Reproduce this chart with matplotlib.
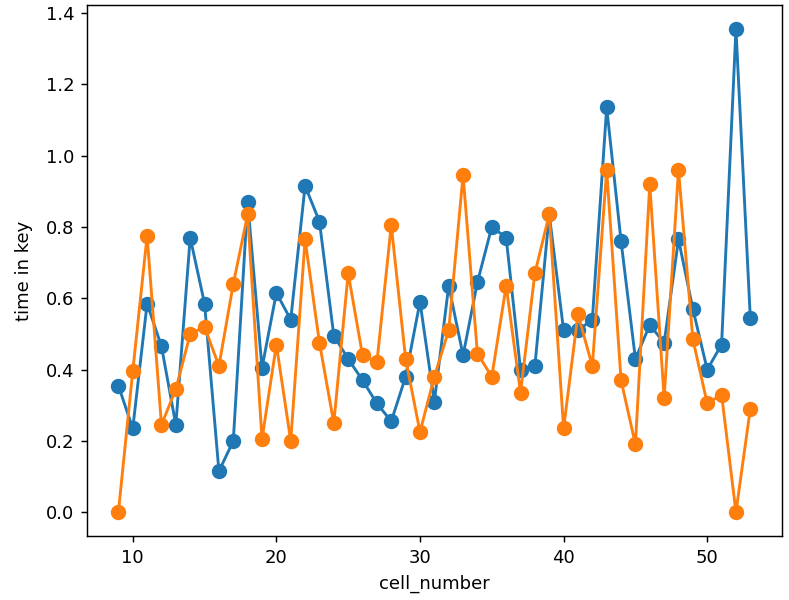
import matplotlib
matplotlib.use("Agg")
import matplotlib.pyplot as plt
import numpy as np

cell_number = np.arange(9, 54)

time_blue = [0.355, 0.235, 0.585, 0.465, 0.245, 0.77, 0.585, 0.115, 0.20, 0.87,
             0.405, 0.615, 0.54, 0.915, 0.815, 0.495, 0.43, 0.37, 0.305, 0.255,
             0.38, 0.59, 0.31, 0.635, 0.44, 0.645, 0.80, 0.77, 0.40, 0.41,
             0.835, 0.51, 0.51, 0.54, 1.135, 0.76, 0.43, 0.525, 0.475, 0.765,
             0.57, 0.40, 0.47, 1.355, 0.545]

time_orange = [0.0, 0.395, 0.775, 0.245, 0.345, 0.50, 0.52, 0.41, 0.64, 0.835,
               0.205, 0.47, 0.20, 0.765, 0.475, 0.25, 0.67, 0.44, 0.42, 0.805,
               0.43, 0.225, 0.38, 0.51, 0.945, 0.445, 0.38, 0.635, 0.335, 0.67,
               0.835, 0.235, 0.555, 0.41, 0.96, 0.37, 0.19, 0.92, 0.32, 0.96,
               0.485, 0.305, 0.33, 0.0, 0.29]

# text in the original is a bit bigger than a 100 dpi render, so scale everything up
dpi = 130
fig, ax = plt.subplots(figsize=(789 / dpi, 600 / dpi), dpi=dpi)
fig.subplots_adjust(left=0.110, right=0.991, top=0.992, bottom=0.106)

ax.plot(cell_number, time_blue, marker="o", markersize=7.5, linewidth=1.6)
ax.plot(cell_number, time_orange, marker="o", markersize=7.5, linewidth=1.6)

ax.set_xlabel("cell_number")
ax.set_ylabel("time in key", labelpad=7)

fig.savefig("out.png", dpi=dpi)
